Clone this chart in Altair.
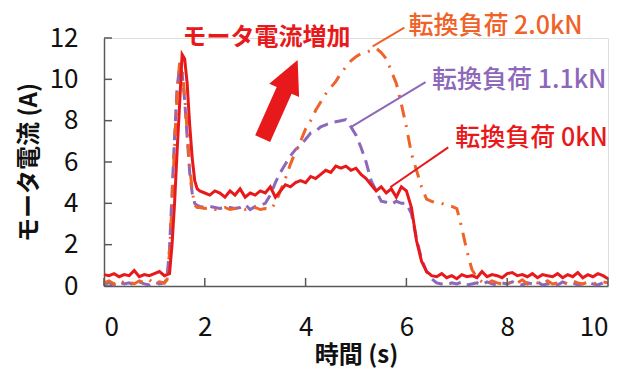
import altair as alt
import pandas as pd

FONT = "Noto Sans CJK JP"

# time axis (s)
time_s = [0.0, 0.1, 0.2, 0.3, 0.4, 0.5, 0.6, 0.7, 0.8, 0.9, 1.0, 1.1, 1.2,
          1.25, 1.3, 1.35, 1.4, 1.45, 1.5, 1.55, 1.6, 1.65, 1.7, 1.75, 1.8, 1.85, 1.9,
          2.0, 2.1, 2.2, 2.3, 2.4, 2.5, 2.6, 2.7, 2.8, 2.9,
          3.0, 3.1, 3.2, 3.3, 3.4, 3.5, 3.6, 3.7, 3.8, 3.9,
          4.0, 4.1, 4.2, 4.3, 4.4, 4.5, 4.6, 4.7, 4.8, 4.9,
          5.0, 5.1, 5.2, 5.3, 5.4, 5.5, 5.6, 5.7, 5.8, 5.9,
          6.0, 6.1, 6.2, 6.3, 6.4, 6.5, 6.6, 6.7, 6.8, 6.9,
          7.0, 7.1, 7.2, 7.3, 7.4, 7.5, 7.6, 7.7, 7.8, 7.9,
          8.0, 8.1, 8.2, 8.3, 8.4, 8.5, 8.6, 8.7, 8.8, 8.9,
          9.0, 9.1, 9.2, 9.3, 9.4, 9.5, 9.6, 9.7, 9.8, 9.9,
          10.0]

# 転換負荷 0kN (red, solid)
load_0kN = [0.55, 0.5, 0.6, 0.45, 0.55, 0.5, 0.75, 0.45, 0.55, 0.5, 0.6, 0.7, 0.5,
            0.55, 0.6, 2.0, 4.0, 6.5, 8.8, 11.2, 11.0, 9.8, 7.8, 6.2, 5.1, 4.7, 4.6,
            4.5, 4.4, 4.6, 4.5, 4.3, 4.6, 4.4, 4.7, 4.3, 4.5,
            4.4, 4.6, 4.5, 4.8, 4.3, 4.6, 4.9, 4.8, 5.0, 5.1,
            5.0, 5.3, 5.2, 5.4, 5.6, 5.5, 5.8, 5.7, 5.8, 5.6,
            5.7, 5.4, 5.2, 4.9, 4.6, 4.8, 4.5, 4.7, 4.3, 4.8,
            4.6, 3.8, 2.2, 1.2, 0.7, 0.5, 0.45, 0.6, 0.4, 0.5,
            0.35, 0.55, 0.45, 0.5, 0.4, 0.7, 0.45, 0.55, 0.5, 0.4,
            0.6, 0.65, 0.5, 0.55, 0.45, 0.6, 0.4, 0.55, 0.5, 0.45,
            0.6, 0.4, 0.55, 0.45, 0.65, 0.4, 0.55, 0.45, 0.6, 0.5,
            0.35]

# 転換負荷 1.1kN (purple, dashed)
load_1_1kN = [0.1, 0.15, 0.05, 0.2, 0.1, 0.15, 0.05, 0.2, 0.1, 0.05, 0.2, 0.1, 0.15,
              0.4, 1.8, 4.5, 7.2, 9.6, 10.6, 10.3, 9.0, 7.2, 5.5, 4.5, 4.0, 3.9, 3.85,
              3.8, 3.85, 3.8, 3.75, 3.8, 3.8, 3.75, 3.8, 3.95, 3.7,
              3.85, 3.9, 4.0, 4.4, 5.0, 5.5, 5.9, 6.3, 6.6, 6.8,
              7.1, 7.4, 7.5, 7.7, 7.8, 7.9, 7.95, 8.0, 8.05, 7.7,
              7.3, 6.7, 6.0, 5.1, 4.6, 4.1, 4.05, 3.95, 4.1, 4.0,
              4.0, 3.5, 2.3, 1.3, 0.7, 0.35, 0.15, 0.1, 0.05, 0.15,
              0.1, 0.2, 0.05, 0.1, 0.15, 0.05, 0.2, 0.1, 0.05, 0.15,
              0.1, 0.2, 0.1, 0.05, 0.15, 0.1, 0.2, 0.05, 0.1, 0.15,
              0.05, 0.2, 0.1, 0.15, 0.05, 0.1, 0.2, 0.1, 0.05, 0.15,
              0.1]

# 転換負荷 2.0kN (orange, dash-dot)
load_2_0kN = [0.15, 0.25, 0.1, 0.3, 0.15, 0.2, 0.1, 0.25, 0.15, 0.3, 0.1, 0.2, 0.15,
              0.3, 1.6, 4.0, 6.8, 9.3, 10.8, 10.5, 9.2, 7.5, 5.8, 4.6, 3.9, 3.8, 3.8,
              3.75, 3.8, 3.7, 3.75, 3.8, 3.7, 3.75, 3.8, 3.7, 3.75,
              3.8, 3.7, 3.75, 3.7, 4.0, 4.6, 5.2, 5.9, 6.5, 7.0,
              7.6, 8.0, 8.5, 8.9, 9.3, 9.6, 9.9, 10.3, 10.6, 10.9,
              11.1, 11.25, 11.3, 11.4, 11.5, 11.3, 11.0, 10.4, 9.8, 8.8,
              7.7, 6.4, 5.6, 4.8, 4.2, 4.1, 4.0, 4.0, 3.9, 3.85,
              3.75, 2.8, 1.7, 0.8, 0.4, 0.2, 0.1, 0.25, 0.15, 0.1,
              0.2, 0.1, 0.15, 0.3, 0.1, 0.2, 0.15, 0.1, 0.25, 0.1,
              0.15, 0.2, 0.1, 0.25, 0.15, 0.1, 0.2, 0.15, 0.1, 0.2,
              0.15]

RED = "#E8191B"
ORANGE = "#EF6228"
PURPLE = "#8C67BA"

x_ticks = [0, 2, 4, 6, 8, 10]
y_ticks = [0, 2, 4, 6, 8, 10, 12]

# annotation labels
label_text = ["転換負荷 2.0kN", "転換負荷 1.1kN", "転換負荷 0kN"]
label_x = [6.04, 6.51, 6.97]
label_y = [12.58, 9.95, 7.15]
label_color = [ORANGE, PURPLE, RED]

# leader lines (from curve to label)
lead_x = [5.33, 4.89, 5.68]
lead_y = [11.6, 7.68, 4.78]
lead_x2 = [5.96, 6.38, 6.83]
lead_y2 = [12.5, 9.86, 6.71]

W, H = 504, 248

df = pd.DataFrame({"t": time_s, "r": load_0kN, "p": load_1_1kN, "o": load_2_0kN})

xs = alt.Scale(domain=[0, 10], nice=False)
ys = alt.Scale(domain=[0, 12], nice=False)

x_axis = alt.Axis(values=x_ticks, ticks=False, grid=False, domainColor="#595959",
                  domainWidth=1.5, labelFont=FONT, labelFontSize=26, labelColor="#111",
                  labelPadding=28, title="時間 (s)", titleFont=FONT, titleFontSize=24,
                  titleFontWeight="bold", titleColor="#111", titleX=W / 2, titleY=69,
                  titleBaseline="middle", titleAlign="center")
y_axis = alt.Axis(values=y_ticks, ticks=False, grid=False, domainColor="#595959",
                  domainWidth=1.5, labelFont=FONT, labelFontSize=26, labelColor="#111",
                  labelPadding=26, title="モータ電流 (A)", titleFont=FONT,
                  titleFontSize=24, titleFontWeight="bold", titleColor="#111",
                  titleAngle=-90, titleX=-75, titleY=H / 2, titleBaseline="middle",
                  titleAlign="center")

base = alt.Chart(df)

line_p = base.mark_line(color=PURPLE, strokeWidth=3, strokeDash=[12, 7]).encode(
    x=alt.X("t:Q", scale=xs, axis=x_axis),
    y=alt.Y("p:Q", scale=ys, axis=y_axis),
)
line_o = base.mark_line(color=ORANGE, strokeWidth=3, strokeDash=[13, 8, 2, 8]).encode(
    x=alt.X("t:Q", scale=xs), y=alt.Y("o:Q", scale=ys))
line_r = base.mark_line(color=RED, strokeWidth=3).encode(
    x=alt.X("t:Q", scale=xs), y=alt.Y("r:Q", scale=ys))

ytick_df = pd.DataFrame({"v": y_ticks})
xtick_df = pd.DataFrame({"v": x_ticks})
yticks = alt.Chart(ytick_df).mark_rule(color="#595959", strokeWidth=1.5).encode(
    y=alt.Y("v:Q", scale=ys), x=alt.value(0), x2=alt.value(8))
xticks = alt.Chart(xtick_df).mark_rule(color="#595959", strokeWidth=1.5).encode(
    x=alt.X("v:Q", scale=xs), y=alt.value(H), y2=alt.value(H - 8))

lead_df = pd.DataFrame({"x": lead_x, "y": lead_y, "x2": lead_x2, "y2": lead_y2,
                        "c": label_color})
leaders = alt.Chart(lead_df).mark_rule(strokeWidth=2).encode(
    x=alt.X("x:Q", scale=xs), y=alt.Y("y:Q", scale=ys), x2="x2:Q", y2="y2:Q",
    color=alt.Color("c:N", scale=None))

lab_df = pd.DataFrame({"x": label_x, "y": label_y, "txt": label_text, "c": label_color})
labels = alt.Chart(lab_df).mark_text(align="left", baseline="middle", font=FONT,
                                     fontSize=25, fontWeight=500).encode(
    x=alt.X("x:Q", scale=xs), y=alt.Y("y:Q", scale=ys), text="txt:N",
    color=alt.Color("c:N", scale=None))

title_df = pd.DataFrame({"x": [1.56], "y": [12.0], "txt": ["モータ電流増加"]})
title_txt = alt.Chart(title_df).mark_text(align="left", baseline="middle", font=FONT,
                                          fontSize=24, fontWeight="bold",
                                          color=RED).encode(
    x=alt.X("x:Q", scale=xs), y=alt.Y("y:Q", scale=ys), text="txt:N")

arrow_path = ("M0,-1 L0.38,-0.23 L0.19,-0.23 L0.19,1 L-0.19,1 "
              "L-0.19,-0.23 L-0.38,-0.23 Z")
arrow_df = pd.DataFrame({"x": [3.495], "y": [9.03]})
arrow = alt.Chart(arrow_df).mark_point(shape=arrow_path, filled=True, size=7396,
                                       angle=24, color=RED, opacity=1,
                                       strokeWidth=0).encode(
    x=alt.X("x:Q", scale=xs), y=alt.Y("y:Q", scale=ys))

chart = alt.layer(line_p, line_o, line_r, yticks, xticks, leaders, labels,
                  title_txt, arrow).properties(
    width=W, height=H, autosize="none",
    padding={"left": 96, "top": 30, "right": 14, "bottom": 82},
).configure_view(stroke=None).configure(background="white")

chart.save("out.html", embed_options={"renderer": "svg", "actions": False})
